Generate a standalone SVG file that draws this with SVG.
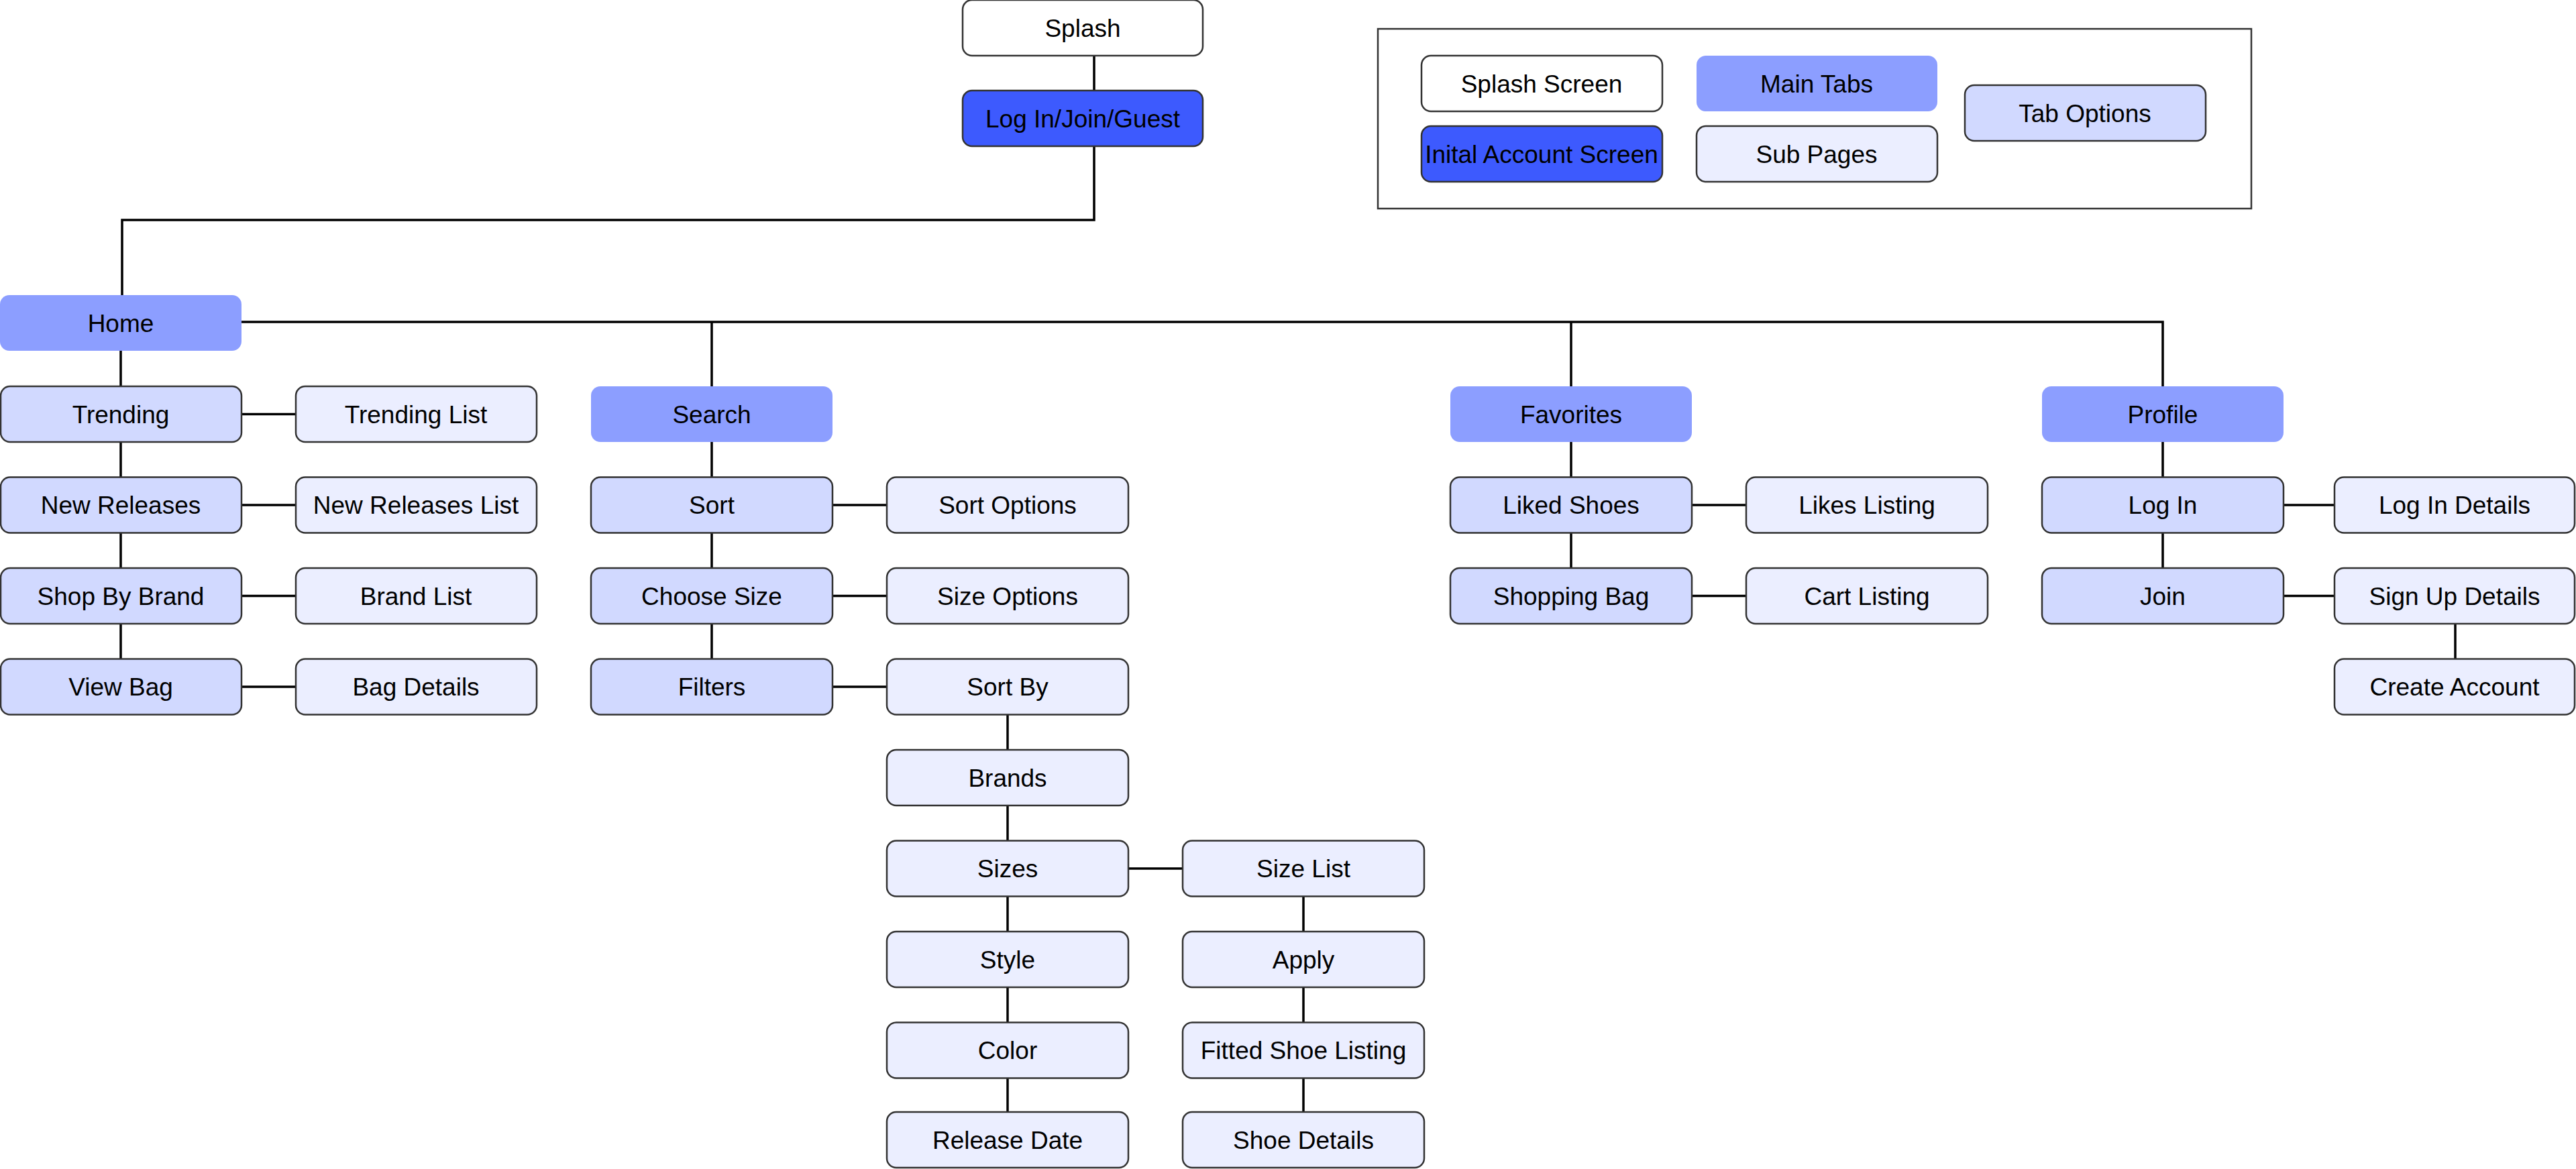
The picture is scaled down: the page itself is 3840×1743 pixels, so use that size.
<svg xmlns="http://www.w3.org/2000/svg" width="3840" height="1743" viewBox="0 0 3840 1743">
<style>
rect.n{stroke:#333;stroke-width:2.5}
.w{fill:#fff}.acc{fill:#3D5AFE}.main{fill:#8C9EFF;stroke:none!important}.tab{fill:#D1D9FF}.sub{fill:#EBEEFF}
text{font-family:"Liberation Sans",Arial,sans-serif;font-size:37px;fill:#000;text-anchor:middle;dominant-baseline:central}
#connectors path{fill:none;stroke:#000;stroke-width:3.5}
</style>
<rect x="2054" y="43" width="1302" height="268" fill="#fff" stroke="#333" stroke-width="2.5"/>
<g id="connectors">
<path d="M1631 83V135M1631 218V328H182V440"/>
<path d="M360 480H3224V576M1061 480V576M2342 480V576"/>
<path d="M180 523V983M1061 659V983M1502 1066V1660M1943 1295V1660M2342 659V847M3224 659V847M3660 930V983"/>
<path d="M360 617.5H441M360 753H441M360 888.5H441M360 1024H441"/>
<path d="M1241 753H1322M1241 888.5H1322M1241 1024H1322M1682 1295H1763"/>
<path d="M2522 753H2603M2522 888.5H2603M3404 753H3480M3404 888.5H3480"/>
</g>
<g id="legend">
<g id="lg-splash"><rect class="n w" x="2119" y="83" width="359" height="83" rx="14"/><text x="2298" y="125">Splash Screen</text></g>
<g id="lg-main"><rect class="n main" x="2529" y="83" width="359" height="83" rx="14"/><text x="2708" y="125">Main Tabs</text></g>
<g id="lg-acc"><rect class="n acc" x="2119" y="188" width="359" height="83" rx="14"/><text x="2298" y="230">Inital Account Screen</text></g>
<g id="lg-sub"><rect class="n sub" x="2529" y="188" width="359" height="83" rx="14"/><text x="2708" y="230">Sub Pages</text></g>
<g id="lg-tab"><rect class="n tab" x="2929" y="127" width="359" height="83" rx="14"/><text x="3108" y="169">Tab Options</text></g>
</g>
<g id="splash"><rect class="n w" x="1435" y="0" width="358" height="83" rx="14"/><text x="1614" y="42">Splash</text></g>
<g id="login"><rect class="n acc" x="1435" y="135" width="358" height="83" rx="14"/><text x="1614" y="177">Log In/Join/Guest</text></g>
<g id="home"><rect class="n main" x="0" y="440" width="360" height="83" rx="14"/><text x="180" y="482">Home</text></g>

<g id="trending"><rect class="n tab" x="1" y="576" width="359" height="83" rx="14"/><text x="180" y="618">Trending</text></g>
<g id="newreleases"><rect class="n tab" x="1" y="711.5" width="359" height="83" rx="14"/><text x="180" y="753">New Releases</text></g>
<g id="shopbybrand"><rect class="n tab" x="1" y="847" width="359" height="83" rx="14"/><text x="180" y="889">Shop By Brand</text></g>
<g id="viewbag"><rect class="n tab" x="1" y="982.5" width="359" height="83" rx="14"/><text x="180" y="1024">View Bag</text></g>
<g id="trendinglist"><rect class="n sub" x="441" y="576" width="359" height="83" rx="14"/><text x="620" y="618">Trending List</text></g>
<g id="newreleaseslist"><rect class="n sub" x="441" y="711.5" width="359" height="83" rx="14"/><text x="620" y="753">New Releases List</text></g>
<g id="brandlist"><rect class="n sub" x="441" y="847" width="359" height="83" rx="14"/><text x="620" y="889">Brand List</text></g>
<g id="bagdetails"><rect class="n sub" x="441" y="982.5" width="359" height="83" rx="14"/><text x="620" y="1024">Bag Details</text></g>

<g id="search"><rect class="n main" x="881" y="576" width="360" height="83" rx="14"/><text x="1061" y="618">Search</text></g>
<g id="sort"><rect class="n tab" x="881" y="711.5" width="360" height="83" rx="14"/><text x="1061" y="753">Sort</text></g>
<g id="choosesize"><rect class="n tab" x="881" y="847" width="360" height="83" rx="14"/><text x="1061" y="889">Choose Size</text></g>
<g id="filters"><rect class="n tab" x="881" y="982.5" width="360" height="83" rx="14"/><text x="1061" y="1024">Filters</text></g>
<g id="sortoptions"><rect class="n sub" x="1322" y="711.5" width="360" height="83" rx="14"/><text x="1502" y="753">Sort Options</text></g>
<g id="sizeoptions"><rect class="n sub" x="1322" y="847" width="360" height="83" rx="14"/><text x="1502" y="889">Size Options</text></g>
<g id="sortby"><rect class="n sub" x="1322" y="982.5" width="360" height="83" rx="14"/><text x="1502" y="1024">Sort By</text></g>
<g id="brands"><rect class="n sub" x="1322" y="1118" width="360" height="83" rx="14"/><text x="1502" y="1160">Brands</text></g>
<g id="sizes"><rect class="n sub" x="1322" y="1253.5" width="360" height="83" rx="14"/><text x="1502" y="1295">Sizes</text></g>
<g id="style"><rect class="n sub" x="1322" y="1389" width="360" height="83" rx="14"/><text x="1502" y="1431">Style</text></g>
<g id="color"><rect class="n sub" x="1322" y="1524.5" width="360" height="83" rx="14"/><text x="1502" y="1566">Color</text></g>
<g id="releasedate"><rect class="n sub" x="1322" y="1658" width="360" height="83" rx="14"/><text x="1502" y="1700">Release Date</text></g>
<g id="sizelist"><rect class="n sub" x="1763" y="1253.5" width="360" height="83" rx="14"/><text x="1943" y="1295">Size List</text></g>
<g id="apply"><rect class="n sub" x="1763" y="1389" width="360" height="83" rx="14"/><text x="1943" y="1431">Apply</text></g>
<g id="fitted"><rect class="n sub" x="1763" y="1524.5" width="360" height="83" rx="14"/><text x="1943" y="1566">Fitted Shoe Listing</text></g>
<g id="shoedetails"><rect class="n sub" x="1763" y="1658" width="360" height="83" rx="14"/><text x="1943" y="1700">Shoe Details</text></g>

<g id="favorites"><rect class="n main" x="2162" y="576" width="360" height="83" rx="14"/><text x="2342" y="618">Favorites</text></g>
<g id="likedshoes"><rect class="n tab" x="2162" y="711.5" width="360" height="83" rx="14"/><text x="2342" y="753">Liked Shoes</text></g>
<g id="shoppingbag"><rect class="n tab" x="2162" y="847" width="360" height="83" rx="14"/><text x="2342" y="889">Shopping Bag</text></g>
<g id="likeslisting"><rect class="n sub" x="2603" y="711.5" width="360" height="83" rx="14"/><text x="2783" y="753">Likes Listing</text></g>
<g id="cartlisting"><rect class="n sub" x="2603" y="847" width="360" height="83" rx="14"/><text x="2783" y="889">Cart Listing</text></g>

<g id="profile"><rect class="n main" x="3044" y="576" width="360" height="83" rx="14"/><text x="3224" y="618">Profile</text></g>
<g id="logintab"><rect class="n tab" x="3044" y="711.5" width="360" height="83" rx="14"/><text x="3224" y="753">Log In</text></g>
<g id="join"><rect class="n tab" x="3044" y="847" width="360" height="83" rx="14"/><text x="3224" y="889">Join</text></g>
<g id="logindetails"><rect class="n sub" x="3480" y="711.5" width="358" height="83" rx="14"/><text x="3659" y="753">Log In Details</text></g>
<g id="signup"><rect class="n sub" x="3480" y="847" width="358" height="83" rx="14"/><text x="3659" y="889">Sign Up Details</text></g>
<g id="createaccount"><rect class="n sub" x="3480" y="982.5" width="358" height="83" rx="14"/><text x="3659" y="1024">Create Account</text></g>
</svg>
